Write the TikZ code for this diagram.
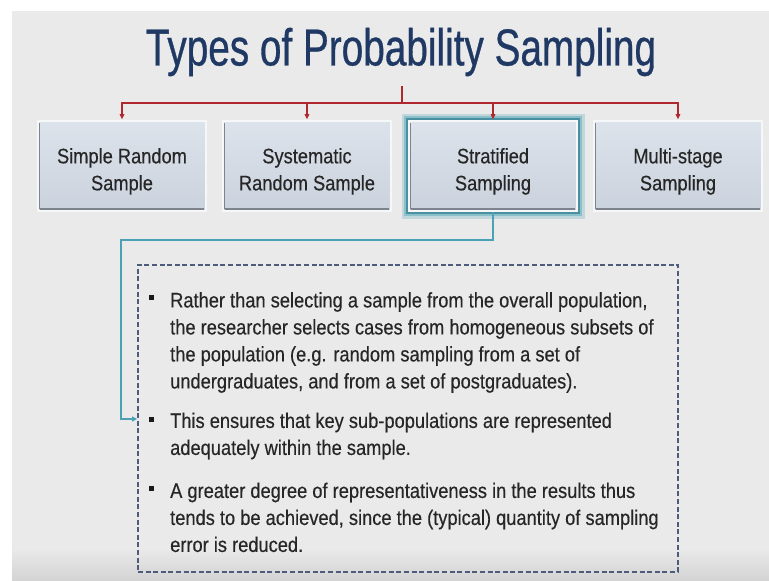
\documentclass[tikz,border=0pt]{standalone}
\usepackage{fontspec}
\setmainfont{Liberation Sans}
\newfontfamily\bodyfont[FakeStretch=0.87,FakeBold=0.35]{Liberation Sans}
\newfontfamily\titlefont[FakeStretch=0.745,FakeBold=0.6]{Liberation Sans}
\usetikzlibrary{arrows.meta,calc}

\definecolor{slidebg}{HTML}{EAEAEA}
\definecolor{slidefoot}{HTML}{D3D3D3}
\definecolor{titleblue}{HTML}{1F3864}
\definecolor{linkred}{HTML}{B0282D}
\definecolor{linkteal}{HTML}{4AA2B4}
\definecolor{glowteal}{HTML}{3A8598}
\definecolor{boxtop}{HTML}{DDE3EB}
\definecolor{boxbot}{HTML}{CAD2DD}
\definecolor{boxrim}{HTML}{F6F7F9}
\definecolor{boxedge}{HTML}{7E848D}
\definecolor{dashblue}{HTML}{4E5C7C}
\definecolor{bodytext}{HTML}{262626}

% extra head room on the first line pushes the label slightly below centre
\newcommand\labelstrut{\rule{0pt}{26pt}}

\tikzset{
  typebox/.style={minimum width=168pt, minimum height=90pt, inner sep=0pt,
    top color=boxtop, bottom color=boxbot, draw=boxrim, line width=1.6pt,
    align=center, text=bodytext, font=\bodyfont\fontsize{21}{27}\selectfont},
  selbox/.style={typebox,
    preaction={draw=linkteal, draw opacity=.25, line width=15pt, rounded corners=6pt},
    preaction={draw=linkteal, draw opacity=.45, line width=10pt, rounded corners=5pt},
    preaction={draw=glowteal, draw opacity=.8, line width=5.5pt, rounded corners=3pt}},
  boxshade/.style={boxedge, line width=1.8pt},
  redlink/.style={linkred, line width=1.3pt},
  redtip/.style={redlink, -{Triangle[length=5pt,width=4.5pt]}},
  teallink/.style={linkteal, line width=1.8pt, -{Triangle[length=5pt,width=5pt]}},
  notebox/.style={draw=dashblue, line width=1.8pt, dash pattern=on 5pt off 2.6pt,
    minimum width=540pt, minimum height=307pt, inner sep=0pt},
  bulletsq/.style={fill=black!90, minimum size=5pt, inner sep=0pt},
  para/.style={anchor=north west, inner sep=0pt, align=left, text=bodytext,
    font=\bodyfont\fontsize{21}{27}\selectfont},
}

\begin{document}
\begin{tikzpicture}[x=1pt,y=-1pt]
  \useasboundingbox (0,0) rectangle (769,581);
  % slide background
  \fill[white] (0,0) rectangle (769,581);
  \fill[slidebg] (12,11) rectangle (769,581);
  \shade[top color=slidebg, bottom color=slidefoot] (12,548) rectangle (769,581);

  % title
  \node[text=titleblue, font=\titlefont\fontsize{52}{60}\selectfont, inner sep=0pt]
    (title) at (401,52) {Types of Probability Sampling};

  % the four sampling types
  \node[typebox] (b1) at (122,166) {\labelstrut Simple Random\\Sample};
  \node[typebox] (b2) at (307,166) {\labelstrut Systematic\\Random Sample};
  \node[selbox]  (b3) at (493,166) {\labelstrut Stratified\\Sampling};
  \node[typebox] (b4) at (678,166) {\labelstrut Multi-stage\\Sampling};
  \foreach \b in {b1,b2,b3,b4}{
    \draw[boxshade] ([xshift=2.5pt,yshift=2.5pt]\b.south west) -- ([xshift=-2.5pt,yshift=2.5pt]\b.south east);
    \draw[boxedge, line width=0.8pt] ([xshift=2pt,yshift=2.5pt]\b.south west) -- ([xshift=2pt,yshift=-2.5pt]\b.north west);
  }

  % red distribution bar
  \coordinate (hub) at (402,86);
  \coordinate (bar) at (402,103);
  \draw[redlink] (hub) -- (bar);
  \foreach \b in {b1,b2,b3,b4}{
    \draw[redtip] (bar) -| ([yshift=1pt]\b.north);
  }

  % detail box for stratified sampling
  \node[notebox] (note) at (408,418.5) {};

  \node[bulletsq] (d1) at (151,297) {};
  \node[bulletsq] (d2) at (151,419) {};
  \node[bulletsq] (d3) at (151,488) {};

  \node[para] (p1) at (170,292) {Rather than selecting a sample from the overall population,\\
    the researcher selects cases from homogeneous subsets of\\
    the population (e.g. random sampling from a set of\\
    undergraduates, and from a set of postgraduates).};
  \node[para] (p2) at (170,412.5) {This ensures that key sub-populations are represented\\
    adequately within the sample.};
  \node[para] (p3) at (170,482.5) {A greater degree of representativeness in the results thus\\
    tends to be achieved, since the (typical) quantity of sampling\\
    error is reduced.};

  % teal connector from the selected type to its description
  \coordinate (elbow) at (121,240);
  \coordinate (tap) at (elbow |- d2);
  \draw[teallink] (b3.south) |- (elbow) -- (tap) -- (tap -| note.west);
\end{tikzpicture}
\end{document}
